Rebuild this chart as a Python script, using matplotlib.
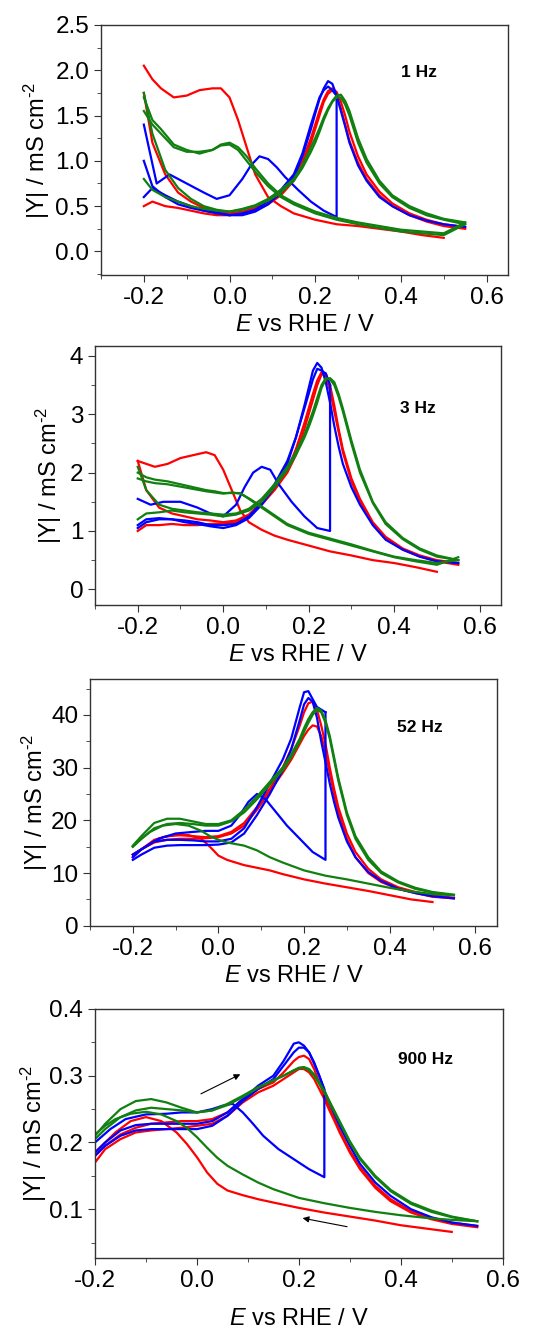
import numpy as np
import matplotlib.pyplot as plt
from matplotlib.ticker import MultipleLocator

plt.rcParams['font.family'] = ['Liberation Sans', 'DejaVu Sans']
plt.rcParams['axes.unicode_minus'] = False
plt.rcParams['mathtext.fontset'] = 'custom'
plt.rcParams['mathtext.rm'] = 'Liberation Sans'
plt.rcParams['mathtext.it'] = 'Liberation Sans:italic'

# potential grids (V vs RHE)
E_UP = [-0.2, -0.18, -0.15, -0.12, -0.09, -0.06, -0.03, 0.0, 0.03, 0.06, 0.09, 0.12, 0.15, 0.17, 0.19, 0.2,
        0.21, 0.22, 0.23, 0.24, 0.25, 0.26, 0.27, 0.28, 0.3, 0.32, 0.35, 0.38, 0.42, 0.46, 0.5, 0.55]
E_DN = [0.55, 0.5, 0.45, 0.4, 0.35, 0.3, 0.25, 0.2, 0.15, 0.12, 0.09, 0.06, 0.04, 0.02, 0.0, -0.02, -0.04,
        -0.07, -0.1, -0.13, -0.16, -0.18, -0.2]
E_REV = [0.25, 0.25, 0.22, 0.19, 0.16, 0.13, 0.11, 0.09, 0.07, 0.05, 0.03, 0.0, -0.03, -0.06, -0.1, -0.14, -0.17, -0.2]

# ---- 1 Hz ----
hz1_red_up_a = [0.5, 0.55, 0.5, 0.48, 0.45, 0.42, 0.4, 0.4, 0.42, 0.45, 0.52, 0.62, 0.78, 0.95, 1.2, 1.35,
                1.5, 1.65, 1.74, 1.78, 1.72, 1.58, 1.4, 1.22, 0.98, 0.8, 0.62, 0.5, 0.4, 0.33, 0.28, 0.25]
hz1_red_up_b = [1.75, 1.2, 0.85, 0.65, 0.55, 0.48, 0.45, 0.42, 0.44, 0.48, 0.55, 0.65, 0.82, 1.0, 1.25, 1.4,
                1.55, 1.68, 1.77, 1.8, 1.76, 1.65, 1.5, 1.32, 1.05, 0.85, 0.66, 0.53, 0.42, 0.35, 0.3, 0.27]
hz1_red_dn = [0.15, 0.18, 0.22, 0.25, 0.28, 0.3, 0.35, 0.42, 0.5, 0.6, 0.85, 1.15, 1.45, 1.7, 1.8, 1.8,
              1.78, 1.72, 1.7, 1.8, 1.9, 2.05]
hz1_blue_up_a = [0.6, 0.7, 0.62, 0.55, 0.5, 0.45, 0.43, 0.4, 0.4, 0.44, 0.52, 0.65, 0.82, 1.05, 1.35, 1.52,
                 1.68, 1.8, 1.88, 1.85, 1.72, 1.55, 1.38, 1.2, 0.95, 0.78, 0.6, 0.5, 0.4, 0.34, 0.3, 0.27]
hz1_blue_up_b = [1.0, 0.72, 0.6, 0.52, 0.48, 0.45, 0.42, 0.4, 0.42, 0.46, 0.55, 0.68, 0.85, 1.08, 1.4, 1.55,
                 1.7, 1.78, 1.82, 1.78, 1.72]
hz1_blue_rev = [1.72, 0.38, 0.45, 0.55, 0.68, 0.82, 0.93, 1.02, 1.05, 0.95, 0.8, 0.62, 0.58, 0.65, 0.75,
                0.85, 0.75, 1.4]
hz1_green_up_a = [0.8, 0.68, 0.6, 0.55, 0.5, 0.47, 0.45, 0.44, 0.46, 0.5, 0.56, 0.65, 0.78, 0.92, 1.1, 1.2,
                  1.32, 1.45, 1.56, 1.65, 1.7, 1.7, 1.62, 1.5, 1.2, 0.98, 0.75, 0.6, 0.48, 0.4, 0.35, 0.3]
hz1_green_up_b = [1.75, 1.3, 0.9, 0.7, 0.58, 0.5, 0.46, 0.44, 0.47, 0.51, 0.58, 0.68, 0.8, 0.95, 1.15, 1.25,
                  1.36, 1.48, 1.58, 1.66, 1.72, 1.73, 1.66, 1.55, 1.25, 1.02, 0.78, 0.62, 0.5, 0.42, 0.36, 0.32]
hz1_green_dn_a = [0.3, 0.18, 0.2, 0.22, 0.26, 0.3, 0.35, 0.42, 0.52, 0.6, 0.72, 0.88, 1.0, 1.12, 1.18, 1.17,
                  1.12, 1.1, 1.1, 1.15, 1.3, 1.4, 1.55]
hz1_green_dn_b = [0.32, 0.2, 0.22, 0.24, 0.28, 0.32, 0.37, 0.44, 0.54, 0.62, 0.75, 0.92, 1.05, 1.15, 1.2, 1.18,
                  1.12, 1.08, 1.12, 1.18, 1.35, 1.45, 1.7]

# ---- 3 Hz ----
hz3_red_up_a = [1.0, 1.1, 1.1, 1.12, 1.1, 1.1, 1.12, 1.13, 1.15, 1.25, 1.45, 1.7, 2.0, 2.3, 2.75, 3.0,
                3.25, 3.5, 3.68, 3.7, 3.5, 3.15, 2.75, 2.4, 1.9, 1.55, 1.15, 0.9, 0.7, 0.58, 0.5, 0.45]
hz3_red_up_b = [2.2, 1.7, 1.4, 1.3, 1.25, 1.2, 1.18, 1.15, 1.18, 1.28, 1.5, 1.75, 2.05, 2.4, 2.85, 3.1,
                3.35, 3.58, 3.72, 3.65, 3.4, 3.05, 2.7, 2.35, 1.85, 1.5, 1.12, 0.88, 0.68, 0.56, 0.48, 0.42]
hz3_red_dn = [0.3, 0.38, 0.45, 0.5, 0.58, 0.65, 0.75, 0.85, 0.92, 1.02, 1.15, 1.35, 1.7, 2.05, 2.3, 2.35,
              2.3, 2.25, 2.15, 2.1, 2.15, 2.2]
hz3_blue_up_a = [1.1, 1.2, 1.22, 1.2, 1.15, 1.12, 1.08, 1.05, 1.1, 1.22, 1.45, 1.75, 2.15, 2.6, 3.15, 3.45,
                 3.75, 3.88, 3.8, 3.55, 3.2, 2.8, 2.45, 2.15, 1.75, 1.45, 1.1, 0.85, 0.68, 0.56, 0.48, 0.45]
hz3_blue_up_b = [1.05, 1.15, 1.2, 1.2, 1.18, 1.15, 1.1, 1.1, 1.12, 1.25, 1.48, 1.8, 2.2, 2.6, 3.1, 3.35,
                 3.6, 3.78, 3.75, 3.7, 3.5]
hz3_blue_rev = [3.5, 1.0, 1.05, 1.25, 1.5, 1.8, 2.05, 2.1, 2.0, 1.75, 1.45, 1.25, 1.3, 1.4, 1.5, 1.5, 1.45, 1.55]
hz3_green_up_a = [1.2, 1.3, 1.32, 1.35, 1.32, 1.3, 1.28, 1.25, 1.28, 1.35, 1.5, 1.75, 2.05, 2.3, 2.6, 2.78,
                  2.98, 3.2, 3.45, 3.6, 3.62, 3.55, 3.35, 3.1, 2.55, 2.05, 1.5, 1.15, 0.88, 0.7, 0.58, 0.5]
hz3_green_up_b = [2.1, 1.7, 1.45, 1.38, 1.35, 1.32, 1.3, 1.28, 1.3, 1.38, 1.55, 1.8, 2.1, 2.35, 2.65, 2.85,
                  3.05, 3.28, 3.5, 3.62, 3.6, 3.5, 3.3, 3.05, 2.5, 2.0, 1.48, 1.12, 0.86, 0.68, 0.56, 0.5]
hz3_green_dn_a = [0.55, 0.42, 0.48, 0.55, 0.65, 0.75, 0.85, 0.95, 1.1, 1.25, 1.4, 1.55, 1.65, 1.65, 1.65, 1.68,
                  1.7, 1.75, 1.8, 1.85, 1.88, 1.92, 2.0]
hz3_green_dn_b = [0.5, 0.45, 0.5, 0.56, 0.66, 0.77, 0.87, 0.97, 1.12, 1.27, 1.42, 1.56, 1.64, 1.66, 1.64, 1.66,
                  1.68, 1.72, 1.76, 1.8, 1.82, 1.85, 1.9]

# ---- 52 Hz ----
hz52_red_up_a = [13.5, 14.5, 15.8, 16.3, 16.5, 16.5, 16.6, 16.8, 17.5, 19.0, 22.0, 25.5, 29.0, 31.5, 34.5, 36.0,
                 37.2, 38.0, 37.8, 36.0, 33.0, 29.0, 25.0, 21.5, 16.5, 13.0, 10.0, 8.3, 7.0, 6.2, 5.5, 5.2]
hz52_red_up_b = [13.0, 14.5, 16.3, 17.0, 17.2, 17.0, 16.8, 17.0, 17.8, 19.5, 22.5, 26.0, 30.0, 33.5, 38.0, 40.5,
                 42.2, 42.5, 41.0, 38.0, 34.5, 30.0, 26.0, 22.5, 17.5, 14.0, 10.8, 8.8, 7.3, 6.4, 5.8, 5.3]
hz52_red_dn = [4.5, 5.0, 5.8, 6.6, 7.3, 8.0, 8.8, 9.8, 10.5, 11.0, 11.5, 12.0, 12.5, 13.3, 15.0, 16.5,
               17.2, 17.2, 16.8, 15.5, 14.5, 13.5]
hz52_blue_up_a = [12.5, 13.5, 14.8, 15.2, 15.3, 15.3, 15.3, 15.4, 15.8, 17.5, 21.0, 25.0, 29.5, 33.5, 39.0, 42.0,
                  43.2, 42.5, 39.5, 35.0, 31.0, 27.0, 23.5, 20.5, 16.0, 13.0, 10.2, 8.5, 7.0, 6.2, 5.6, 5.2]
hz52_blue_up_b = [13.0, 14.5, 16.0, 16.3, 16.3, 16.2, 16.0, 16.0, 16.5, 18.5, 22.5, 27.0, 31.5, 35.5, 41.5, 44.3,
                  44.5, 43.0, 41.5, 41.0, 40.5]
hz52_blue_rev = [40.5, 12.5, 14.0, 16.5, 19.0, 22.0, 24.0, 25.0, 23.5, 21.0, 19.0, 18.0, 18.0, 17.8, 17.5,
                 16.5, 15.0, 13.5]
hz52_green_up_a = [15.0, 16.5, 18.5, 19.3, 19.5, 19.3, 19.0, 19.0, 19.8, 21.5, 24.0, 26.8, 29.5, 32.0, 35.0, 36.8,
                   38.5, 40.0, 41.0, 40.5, 38.5, 35.5, 31.5, 27.5, 21.0, 16.5, 12.5, 10.0, 8.2, 7.0, 6.3, 5.8]
hz52_green_up_b = [15.2, 17.0, 19.5, 20.3, 20.3, 19.8, 19.3, 19.3, 20.0, 22.0, 24.5, 27.3, 30.0, 32.5, 35.5, 37.5,
                   39.2, 40.5, 41.3, 40.8, 39.0, 36.0, 32.0, 28.0, 21.5, 17.0, 13.0, 10.3, 8.4, 7.2, 6.4, 5.9]
hz52_green_dn = [5.8, 6.0, 6.5, 7.2, 8.0, 8.8, 9.5, 10.5, 12.0, 13.0, 14.3, 15.2, 15.5, 15.8, 16.3, 17.0,
                 18.0, 19.0, 19.3, 19.0, 17.8, 16.5, 15.0]

# ---- 900 Hz ----
hz900_red_up_a = [0.17, 0.19, 0.205, 0.215, 0.218, 0.22, 0.222, 0.225, 0.228, 0.24, 0.26, 0.275, 0.285, 0.295,
                  0.305, 0.31, 0.31, 0.305, 0.295, 0.28, 0.265, 0.248, 0.232, 0.215, 0.185, 0.16, 0.132, 0.112,
                  0.095, 0.085, 0.078, 0.073]
hz900_red_up_b = [0.18, 0.195, 0.212, 0.222, 0.228, 0.23, 0.232, 0.232, 0.235, 0.245, 0.265, 0.28, 0.29, 0.305,
                  0.322, 0.328, 0.33, 0.325, 0.31, 0.29, 0.27, 0.252, 0.235, 0.218, 0.188, 0.163, 0.135, 0.115,
                  0.097, 0.087, 0.08, 0.075]
hz900_red_dn = [0.066, 0.071, 0.076, 0.083, 0.089, 0.095, 0.102, 0.11, 0.115, 0.121, 0.128, 0.138, 0.155, 0.178,
                0.198, 0.215, 0.232, 0.238, 0.232, 0.215, 0.2, 0.185]
hz900_blue_up_a = [0.18, 0.195, 0.21, 0.218, 0.22, 0.22, 0.22, 0.22, 0.225, 0.24, 0.262, 0.28, 0.295, 0.315,
                   0.335, 0.342, 0.342, 0.335, 0.32, 0.3, 0.278, 0.26, 0.242, 0.225, 0.195, 0.168, 0.14, 0.12,
                   0.1, 0.088, 0.08, 0.075]
hz900_blue_up_b = [0.185, 0.2, 0.218, 0.226, 0.228, 0.228, 0.228, 0.228, 0.232, 0.245, 0.265, 0.285, 0.3, 0.322,
                   0.348, 0.35, 0.345, 0.335, 0.318, 0.3, 0.28]
hz900_blue_rev = [0.27, 0.148, 0.16, 0.175, 0.19, 0.21, 0.228, 0.245, 0.258, 0.255, 0.25, 0.245, 0.245, 0.243,
                  0.242, 0.235, 0.22, 0.2]
hz900_green_up_a = [0.205, 0.22, 0.238, 0.248, 0.252, 0.25, 0.248, 0.245, 0.248, 0.256, 0.268, 0.282, 0.293, 0.3,
                    0.308, 0.312, 0.313, 0.31, 0.302, 0.29, 0.277, 0.262, 0.247, 0.232, 0.202, 0.177, 0.15,
                    0.129, 0.11, 0.098, 0.089, 0.082]
hz900_green_up_b = [0.21, 0.228, 0.25, 0.262, 0.265, 0.26, 0.252, 0.245, 0.248, 0.258, 0.27, 0.283, 0.293, 0.3,
                    0.308, 0.311, 0.312, 0.308, 0.3, 0.288, 0.275, 0.26, 0.245, 0.23, 0.2, 0.175, 0.148, 0.127,
                    0.108, 0.096, 0.088, 0.082]
hz900_green_dn = [0.082, 0.084, 0.087, 0.091, 0.096, 0.102, 0.109, 0.117, 0.13, 0.14, 0.152, 0.165, 0.177, 0.192,
                  0.208, 0.222, 0.232, 0.242, 0.246, 0.243, 0.235, 0.225, 0.212]


def curves(up_a, up_b, dn, rev=None, dn2=None, red=False):
    out = [(E_UP[:len(up_a)], up_a), (E_UP[:len(up_b)], up_b)]
    out.append((E_DN[1:] if red else E_DN, dn))
    if rev is not None:
        out.append((E_REV, rev))
    if dn2 is not None:
        out.append((E_DN, dn2))
    return out


panels = [
    dict(label='1 Hz', pos=[0.1877, 0.7937, 0.7565, 0.1876], xlim=(-0.3, 0.65), ylim=(-0.26, 2.5),
         ymaj=0.5, ymin=0.25, yfmt='{:.1f}', xpad=4, ypad=2,
         red=curves(hz1_red_up_b, hz1_red_up_a, hz1_red_dn, red=True),
         blue=[(E_UP, hz1_blue_up_a), (E_UP[:21], hz1_blue_up_b), (E_REV, hz1_blue_rev)],
         green=curves(hz1_green_up_b, hz1_green_up_a, hz1_green_dn_a, dn2=hz1_green_dn_b),
         txt=(0.78, 0.81)),
    dict(label='3 Hz', pos=[0.1766, 0.5461, 0.7546, 0.1943], xlim=(-0.3, 0.65), ylim=(-0.27, 4.17),
         ymaj=1, ymin=0.5, yfmt='{:.0f}', xpad=4, ypad=4,
         red=curves(hz3_red_up_b, hz3_red_up_a, hz3_red_dn, red=True),
         blue=[(E_UP, hz3_blue_up_a), (E_UP[:21], hz3_blue_up_b), (E_REV, hz3_blue_rev)],
         green=curves(hz3_green_up_b, hz3_green_up_a, hz3_green_dn_a, dn2=hz3_green_dn_b),
         txt=(0.795, 0.76)),
    dict(label='52 Hz', pos=[0.1673, 0.3055, 0.756, 0.1851], xlim=(-0.3, 0.65), ylim=(0, 46.8),
         ymaj=10, ymin=5, yfmt='{:.0f}', xpad=4, ypad=1,
         red=curves(hz52_red_up_b, hz52_red_up_a, hz52_red_dn, red=True),
         blue=[(E_UP, hz52_blue_up_a), (E_UP[:21], hz52_blue_up_b), (E_REV, hz52_blue_rev)],
         green=curves(hz52_green_up_b, hz52_green_up_a, hz52_green_dn),
         txt=(0.81, 0.805)),
    dict(label='900 Hz', pos=[0.1766, 0.0563, 0.7578, 0.1868], xlim=(-0.2, 0.6), ylim=(0.027, 0.4),
         ymaj=0.1, ymin=0.05, yfmt='{:.1f}', xpad=12, ypad=0,
         red=curves(hz900_red_up_b, hz900_red_up_a, hz900_red_dn, red=True),
         blue=[(E_UP, hz900_blue_up_a), (E_UP[:21], hz900_blue_up_b), (E_REV, hz900_blue_rev)],
         green=curves(hz900_green_up_b, hz900_green_up_a, hz900_green_dn),
         txt=(0.81, 0.795)),
]

fig = plt.figure(figsize=(5.38, 13.33), dpi=100)

for p in panels:
    ax = fig.add_axes(p['pos'])
    for col, c in [('red', '#ff0000'), ('blue', '#0000ff'), ('green', '#118011')]:
        for xs, ys in p[col]:
            ax.plot(xs, ys, color=c, lw=1.6)
    ax.set_xlim(*p['xlim'])
    ax.set_ylim(*p['ylim'])
    ax.xaxis.set_major_locator(MultipleLocator(0.2))
    ax.xaxis.set_minor_locator(MultipleLocator(0.1))
    ax.yaxis.set_major_locator(MultipleLocator(p['ymaj']))
    ax.yaxis.set_minor_locator(MultipleLocator(p['ymin']))
    ax.xaxis.set_major_formatter(plt.FuncFormatter(lambda v, pos: '{:.1f}'.format(v + 0.0)))
    fmt = p['yfmt']
    ax.yaxis.set_major_formatter(plt.FuncFormatter(lambda v, pos, f=fmt: f.format(v + 0.0)))
    ax.tick_params(which='both', direction='out', top=False, right=False, labelsize=17.5, color='#333333')
    ax.tick_params(which='major', length=5)
    ax.tick_params(which='minor', length=3)
    for s in ax.spines.values():
        s.set_color('#333333')
        s.set_linewidth(1.0)
    ax.set_xlabel('$\\it{E}$ vs RHE / V', fontsize=17, labelpad=p['xpad'])
    ax.set_ylabel('|Y| / mS cm$^{\\text{-}2}$', fontsize=17, labelpad=p['ypad'])
    ax.text(p['txt'][0], p['txt'][1], p['label'], transform=ax.transAxes, fontsize=12.5,
            fontweight='bold', ha='center', va='center')
    if p['label'] == '900 Hz':
        ax.annotate('', xy=(0.09, 0.304), xytext=(0.003, 0.271),
                    arrowprops=dict(arrowstyle='-|>', color='black', lw=0.8, mutation_scale=9))
        ax.annotate('', xy=(0.202, 0.0874), xytext=(0.30, 0.073),
                    arrowprops=dict(arrowstyle='-|>', color='black', lw=0.8, mutation_scale=9))

fig.savefig('out.png', dpi=100)
